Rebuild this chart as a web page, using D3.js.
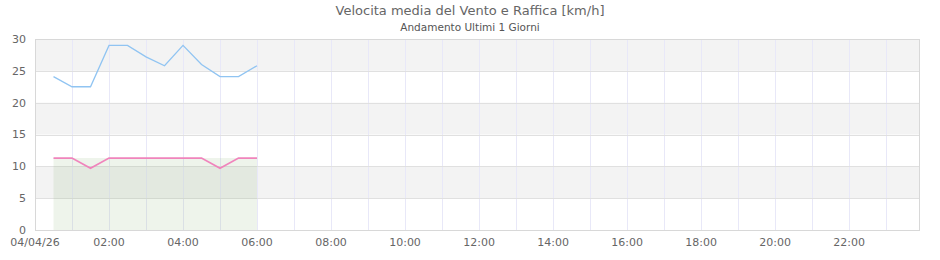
<!DOCTYPE html>
<html><head><meta charset="utf-8">
<script src="https://cdn.jsdelivr.net/npm/d3@7"></script>
<style>body{margin:0;background:#fff;font-family:"DejaVu Sans",sans-serif;}</style>
</head><body><svg id="c" width="940" height="260"></svg>
<script>
const times = ["00:30","01:00","01:30","02:00","02:30","03:00","03:30","04:00","04:30","05:00","05:30","06:00"];
const raffica = [24.1,22.5,22.5,29.0,29.0,27.2,25.8,29.0,26.0,24.1,24.1,25.8];
const media = [11.3,11.3,9.7,11.3,11.3,11.3,11.3,11.3,11.3,9.7,11.3,11.3];
const area = [11.3,11.3,11.3,11.3,11.3,11.3,11.3,11.3,11.3,11.3,11.3,11.3];
const yTicks = [0,5,10,15,20,25,30];
const title = "Velocita media del Vento e Raffica [km/h]";
const subtitle = "Andamento Ultimi 1 Giorni";
const dayLabel = "04/04/26";

const parse = s => { const [h,m] = s.split(":").map(Number); return new Date(2026,3,4,h,m); };
const svg = d3.select("#c");
const L=35,R=920,T=39,B=230;
const x = d3.scaleTime().domain([new Date(2026,3,4,0,0), new Date(2026,3,4,23,55)]).range([L,R]);
const y = d3.scaleLinear().domain([0,30]).range([B,T]);

// bands
for (let i=0;i<yTicks.length-1;i++){
  if (i%2===1) svg.append("rect").attr("x",L).attr("width",R-L)
    .attr("y",y(yTicks[i+1])).attr("height",y(yTicks[i])-y(yTicks[i+1])).attr("fill","#f3f3f3");
}
// vertical grid
const hours = d3.timeHour.range(new Date(2026,3,4,1,0), new Date(2026,3,4,23,56));
svg.append("g").selectAll("line").data(hours).join("line")
  .attr("x1",d=>Math.round(x(d))+0.5).attr("x2",d=>Math.round(x(d))+0.5).attr("y1",T).attr("y2",B)
  .attr("stroke","#e8e8f8").attr("stroke-width",1);
// horizontal grid
svg.append("g").selectAll("line").data(yTicks.slice(1,-1)).join("line")
  .attr("x1",L).attr("x2",R).attr("y1",d=>Math.round(y(d))+0.5).attr("y2",d=>Math.round(y(d))+0.5)
  .attr("stroke","#e0e0e0");

const data = times.map((t,i)=>({t:parse(t), r:raffica[i], m:media[i], a:area[i]}));
svg.append("path").datum(data)
  .attr("d", d3.area().x(d=>x(d.t)).y0(y(0)).y1(d=>y(d.a)))
  .attr("fill","rgba(120,170,100,0.13)");
svg.append("path").datum(data)
  .attr("d", d3.line().x(d=>x(d.t)).y(d=>y(d.r)))
  .attr("fill","none").attr("stroke","#90c4f2").attr("stroke-width",1.3);
svg.append("path").datum(data)
  .attr("d", d3.line().x(d=>x(d.t)).y(d=>y(d.m)))
  .attr("fill","none").attr("stroke","#f084bc").attr("stroke-width",1.8);

// border
svg.append("rect").attr("x",L+0.5).attr("y",T+0.5).attr("width",R-L-1).attr("height",B-T)
  .attr("fill","none").attr("stroke","#d8d8d8");

// y axis labels
svg.append("g").selectAll("text").data(yTicks).join("text")
  .attr("x",26).attr("y",d=>y(d)).attr("dy","0.35em").attr("text-anchor","end")
  .attr("font-size",11).attr("fill","#666").text(d=>d);

// x axis labels
const xt = d3.timeHour.every(2).range(new Date(2026,3,4,0,0), new Date(2026,3,4,23,56));
svg.append("g").selectAll("text").data(xt).join("text")
  .attr("x",d=>x(d)).attr("y",246).attr("text-anchor","middle")
  .attr("font-size",11).attr("fill","#666")
  .text((d,i)=> i===0 ? dayLabel : d3.timeFormat("%H:%M")(d));

svg.append("text").attr("x",470).attr("y",15).attr("text-anchor","middle")
  .attr("font-size",13).attr("fill","#666").text(title);
svg.append("text").attr("x",470).attr("y",31).attr("text-anchor","middle")
  .attr("font-size",10.5).attr("fill","#555").text(subtitle);
</script></body></html>
